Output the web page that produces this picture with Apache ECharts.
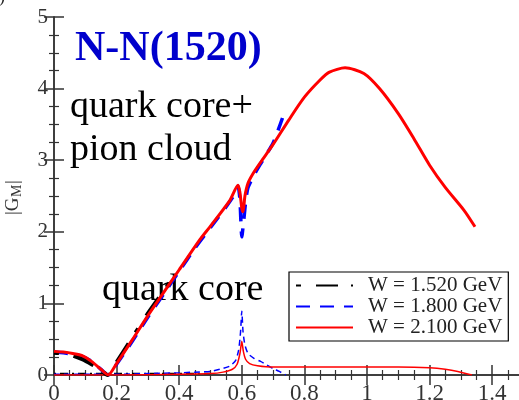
<!DOCTYPE html>
<html>
<head>
<meta charset="utf-8">
<script src="https://cdn.jsdelivr.net/npm/echarts@6/dist/echarts.min.js"></script>
<style>
  html, body { margin: 0; padding: 0; background: #fff; }
  #chart { width: 519px; height: 400px; }
</style>
</head>
<body>
<div id="chart"></div>
<script>
// legend names
const names = ['W = 1.520 GeV', 'W = 1.800 GeV', 'W = 2.100 GeV'];

// quark core + pion cloud (thick)
const fullW1520 = [[0, 0.31], [0.03, 0.3], [0.06, 0.27], [0.09, 0.22], [0.12, 0.15], [0.15, 0.07], [0.17, 0.0],
  [0.2, 0.18], [0.25, 0.52], [0.3, 0.86], [0.35, 1.17], [0.38, 1.35]];
const fullW1800 = [[0, 0.32], [0.03, 0.31], [0.06, 0.29], [0.09, 0.26], [0.12, 0.19], [0.15, 0.08], [0.173, 0.0],
  [0.2, 0.15], [0.25, 0.47], [0.3, 0.81], [0.35, 1.13], [0.4, 1.45], [0.45, 1.77], [0.5, 2.06], [0.55, 2.35],
  [0.575, 2.51], [0.588, 2.64], [0.594, 2.45], [0.6, 1.93], [0.606, 2.15], [0.613, 2.45], [0.62, 2.62],
  [0.64, 2.8], [0.66, 2.95], [0.7, 3.24], [0.73, 3.59]];
const fullW2100 = [[0, 0.33], [0.03, 0.32], [0.06, 0.3], [0.09, 0.27], [0.12, 0.19], [0.15, 0.08], [0.173, 0.0],
  [0.2, 0.16], [0.25, 0.49], [0.3, 0.83], [0.35, 1.15], [0.4, 1.47], [0.466, 1.89], [0.5, 2.08], [0.562, 2.44],
  [0.588, 2.65], [0.594, 2.55], [0.6, 2.33], [0.604, 2.28], [0.61, 2.5], [0.62, 2.68], [0.637, 2.82],
  [0.66, 2.97], [0.7, 3.22], [0.75, 3.56], [0.8, 3.88], [0.85, 4.12], [0.88, 4.23], [0.93, 4.29],
  [0.99, 4.21], [1.04, 4.0], [1.1, 3.65], [1.15, 3.3], [1.2, 2.93], [1.25, 2.62], [1.31, 2.3], [1.345, 2.07]];

// quark core only (thin)
const coreW1520 = [[0, 0.02], [0.1, 0.02], [0.2, 0.02], [0.3, 0.02], [0.4, 0.02], [0.5, 0.02]];
const coreW1800 = [[0, 0.01], [0.1, 0.01], [0.2, 0.01], [0.3, 0.02], [0.4, 0.03], [0.45, 0.04], [0.5, 0.05],
  [0.53, 0.08], [0.56, 0.12], [0.58, 0.2], [0.59, 0.35], [0.596, 0.6], [0.6, 0.89], [0.604, 0.6],
  [0.61, 0.42], [0.62, 0.3], [0.64, 0.23], [0.66, 0.19], [0.68, 0.14], [0.7, 0.09], [0.72, 0.05], [0.74, 0.0]];
const coreW2100 = [[0, 0.0], [0.2, 0.0], [0.4, 0.01], [0.5, 0.02], [0.54, 0.04], [0.57, 0.08], [0.585, 0.15],
  [0.594, 0.3], [0.6, 0.47], [0.605, 0.33], [0.612, 0.22], [0.625, 0.16], [0.65, 0.13], [0.7, 0.11],
  [0.8, 0.11], [0.9, 0.11], [1.0, 0.11], [1.1, 0.11], [1.2, 0.1], [1.25, 0.08], [1.29, 0.05], [1.335, 0.0]];

const serif = 'Liberation Serif';
const axisColor = '#333';

function axisBase(extra) {
  return Object.assign({
    type: 'value',
    axisLine: { show: true, lineStyle: { color: axisColor, width: 1.5 } },
    axisTick: { show: true, inside: true, length: 10, lineStyle: { color: axisColor, width: 1.5 } },
    minorTick: { show: true, splitNumber: 4, length: 5, lineStyle: { color: axisColor, width: 1.2 } },
    splitLine: { show: false },
    minorSplitLine: { show: false }
  }, extra);
}

const chart = echarts.init(document.getElementById('chart'));

chart.setOption({
  animation: false,
  backgroundColor: '#fff',
  grid: { left: 54, top: 17, width: 469.5, height: 358, containLabel: false, outerBoundsMode: 'none' },
  xAxis: [
    axisBase({
      min: 0, max: 1.5, interval: 0.2,
      axisLabel: {
        color: axisColor, fontFamily: serif, fontSize: 23, margin: 7,
        showMaxLabel: false
      }
    }),
    axisBase({
      position: 'top', min: 0, max: 1.5, interval: 0.2,
      axisLabel: { show: false }
    })
  ],
  yAxis: [
    axisBase({
      min: 0, max: 5, interval: 1,
      axisLabel: { color: axisColor, fontFamily: serif, fontSize: 21, margin: 6 }
    }),
    axisBase({
      position: 'right', min: 0, max: 5, interval: 1,
      axisLabel: { show: false }
    })
  ],
  legend: {
    data: names,
    orient: 'vertical',
    left: 289,
    top: 272,
    padding: [3, 6, 3, 6],
    itemWidth: 57,
    itemHeight: 14,
    itemGap: 0,
    backgroundColor: '#fff',
    borderColor: '#000',
    borderWidth: 1.2,
    borderRadius: 0,
    selectedMode: false,
    itemStyle: { opacity: 0 },
    textStyle: { fontFamily: serif, fontSize: 21, lineHeight: 20, color: '#222', padding: [0, 0, 0, 10] }
  },
  graphic: [
    { type: 'text', left: -1, top: -12, style: { text: ')', font: '18px "Liberation Serif"', fill: '#222' } },
    {
      type: 'group', x: 13, y: 197, rotation: Math.PI / 2,
      children: [
        { type: 'text', x: -18, y: 0, style: { text: '|G', font: '19px "Liberation Serif"', fill: axisColor, verticalAlign: 'middle' } },
        { type: 'text', x: 0, y: 4, style: { text: 'M', font: '14px "Liberation Serif"', fill: axisColor, verticalAlign: 'middle' } },
        { type: 'text', x: 13, y: 0, style: { text: '|', font: '19px "Liberation Serif"', fill: axisColor, verticalAlign: 'middle' } }
      ]
    },
    { type: 'text', x: 75, y: 49, style: { text: 'N-N(1520)', font: 'bold 42px "Liberation Serif"', fill: '#0000cc', verticalAlign: 'middle' } },
    { type: 'text', x: 70, y: 107.5, style: { text: 'quark core+', font: '38px "Liberation Serif"', fill: '#000', verticalAlign: 'middle' } },
    { type: 'text', x: 70, y: 150.5, style: { text: 'pion cloud', font: '38px "Liberation Serif"', fill: '#000', verticalAlign: 'middle' } },
    { type: 'text', x: 102, y: 290.5, style: { text: 'quark core', font: '38px "Liberation Serif"', fill: '#000', verticalAlign: 'middle' } }
  ],
  series: [
    {
      name: 'core1520', type: 'line', data: coreW1520, showSymbol: false, symbol: 'none',
      lineStyle: { color: '#000', width: 1.5, type: [2, 4, 8, 4] }
    },
    {
      name: 'core1800', type: 'line', data: coreW1800, showSymbol: false, symbol: 'none', smooth: 0.2,
      lineStyle: { color: '#0000ff', width: 1.5, type: [6, 4] }
    },
    {
      name: 'core2100', type: 'line', data: coreW2100, showSymbol: false, symbol: 'none', smooth: 0.2,
      lineStyle: { color: '#ff0000', width: 1.5 }
    },
    {
      name: names[1], type: 'line', data: fullW1800, showSymbol: false, symbol: 'none', smooth: 0.2,
      itemStyle: { color: '#0000ff' },
      lineStyle: { color: '#0000ff', width: 3.5, type: [14, 10] }
    },
    {
      name: names[0], type: 'line', data: fullW1520, showSymbol: false, symbol: 'none', smooth: 0.2,
      itemStyle: { color: '#000' },
      lineStyle: { color: '#000', width: 4, type: [5, 15, 22, 13] }
    },
    {
      name: names[2], type: 'line', data: fullW2100, showSymbol: false, symbol: 'none', smooth: 0.25,
      itemStyle: { color: '#ff0000' },
      lineStyle: { color: '#ff0000', width: 3 }
    }
  ]
});
</script>
</body>
</html>
